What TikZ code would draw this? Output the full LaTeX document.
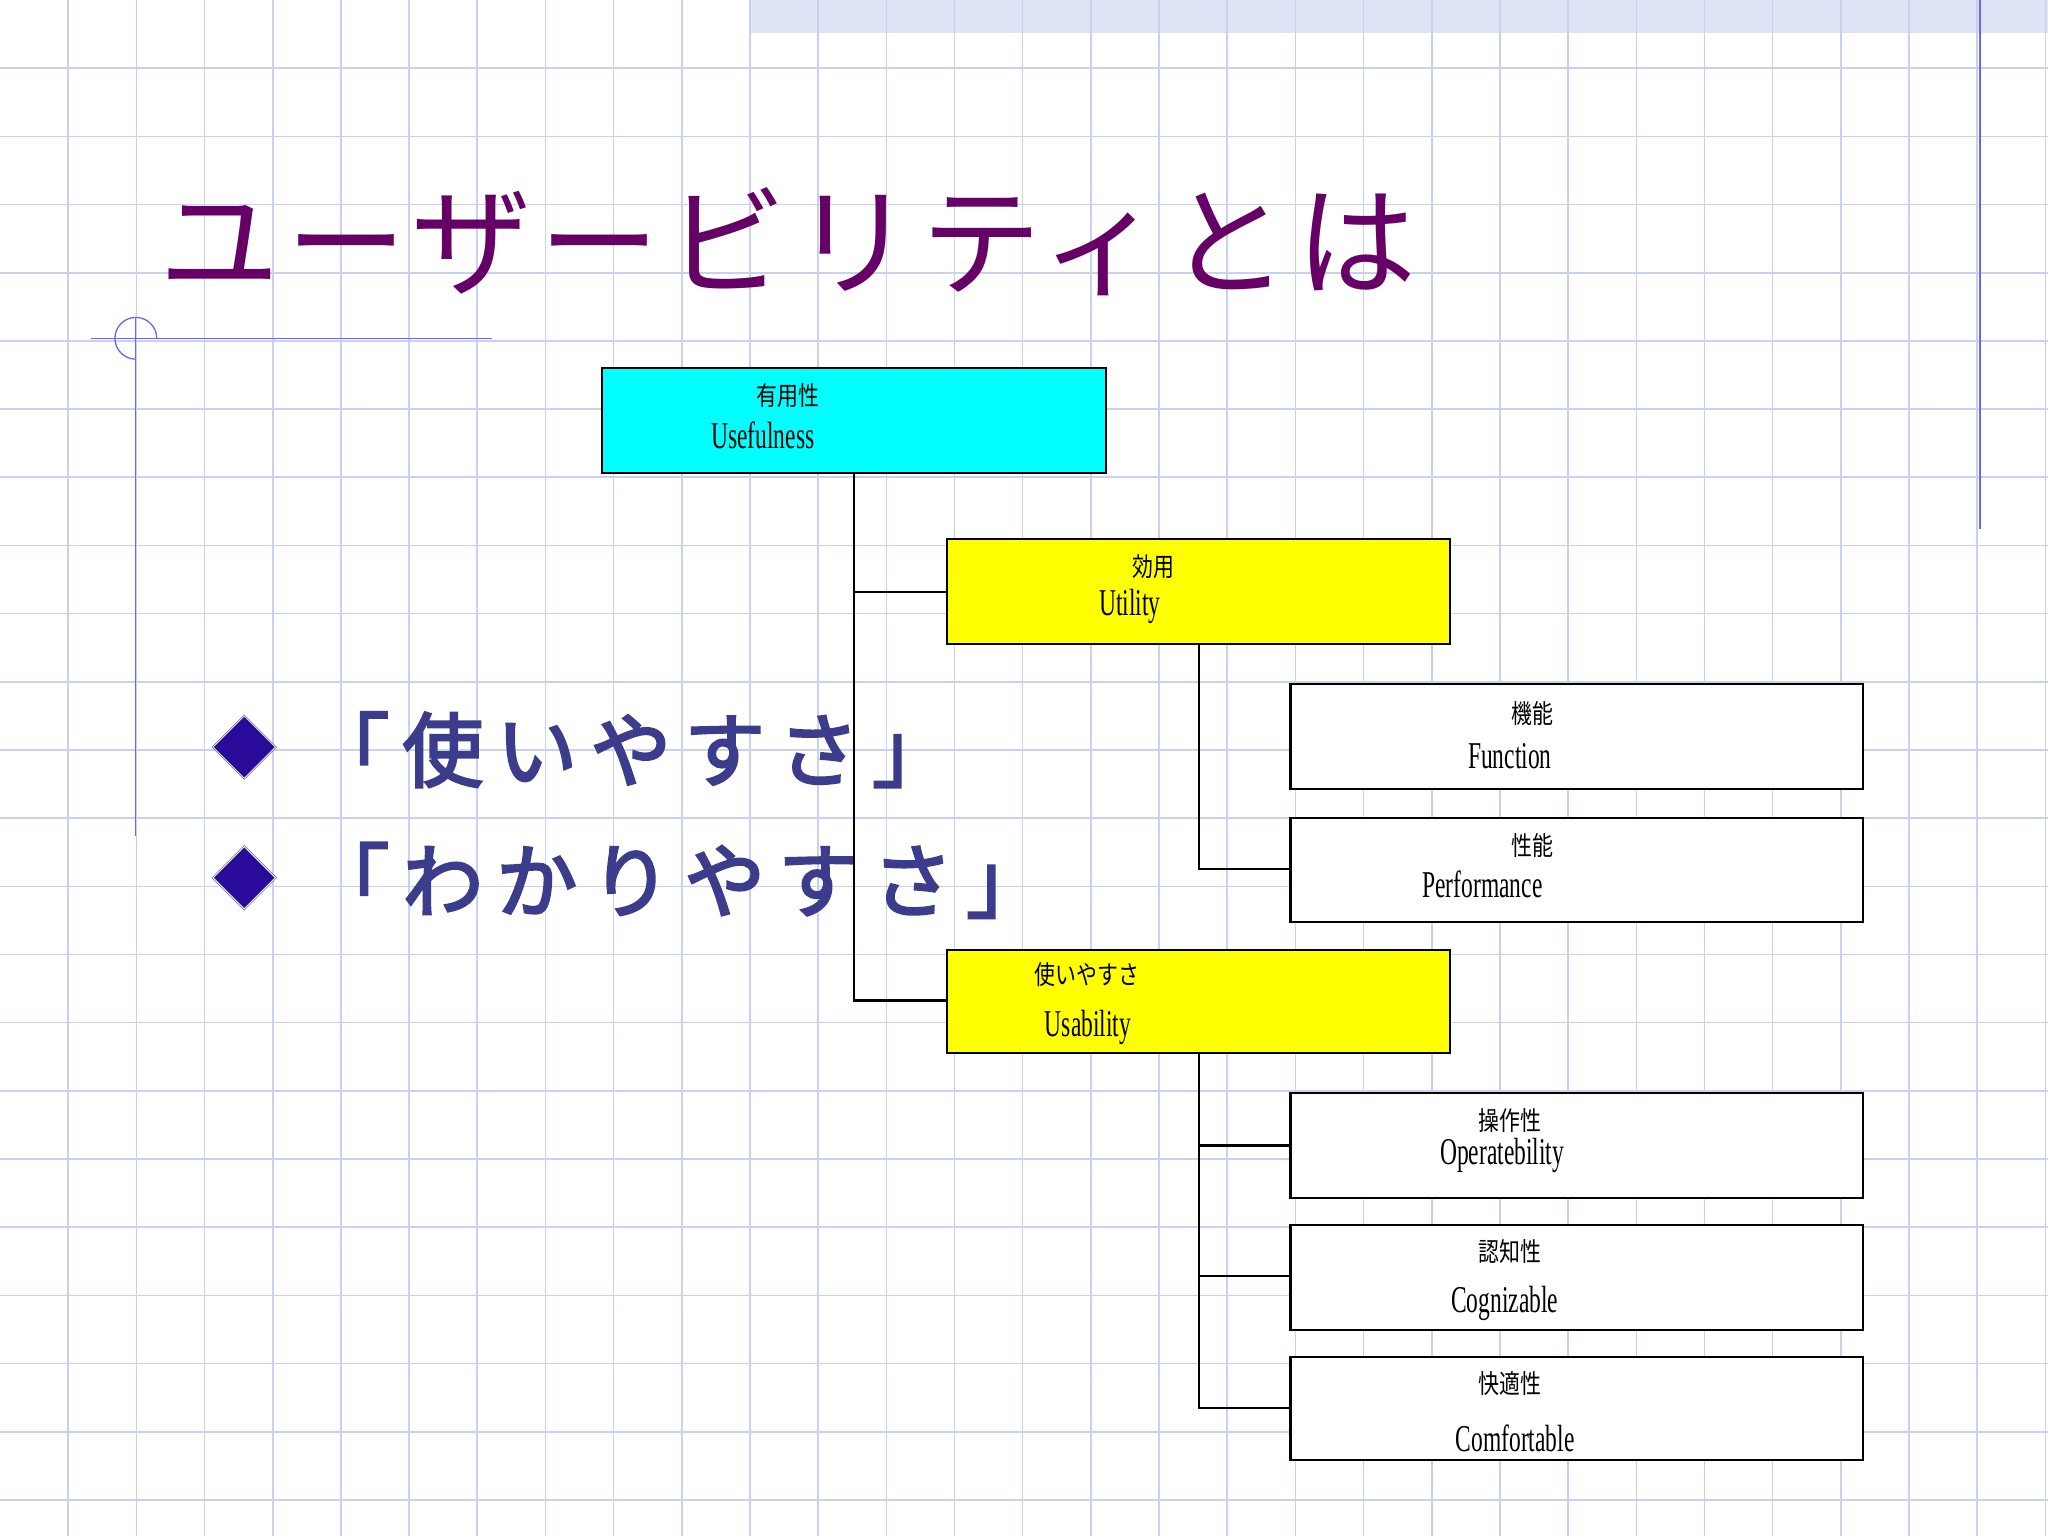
\documentclass[tikz,border=0pt]{standalone}
\usepackage{fontspec}
\usetikzlibrary{shapes.geometric}
\newfontfamily\jp[LetterSpace=6]{Noto Sans CJK JP}
\newfontfamily\jpc[FakeStretch=0.8]{Noto Sans CJK JP}
\newfontfamily\cond[FakeStretch=0.62]{Liberation Serif}
\newfontfamily\jpb[FakeBold=3,LetterSpace=16]{Noto Sans CJK JP}
\definecolor{gridc}{HTML}{C8D2F0}
\definecolor{titlec}{HTML}{660066}
\definecolor{bulc}{HTML}{3C3C8C}
\definecolor{cy}{HTML}{00FFFF}
\definecolor{ye}{HTML}{FFFF00}
\definecolor{dia}{HTML}{2A0A9A}
\begin{document}
\begin{tikzpicture}[x=1pt,y=-1pt,
  box/.style={draw=black,line width=1.6pt,minimum width=0pt},
  jl/.style={font=\jpc\fontsize{20}{22}\selectfont,inner sep=0pt},
  el/.style={font=\cond\fontsize{29}{30}\selectfont,inner sep=0pt},
  conn/.style={line width=1.6pt}]
\useasboundingbox (0,0) rectangle (1568,1176);
\fill[white] (0,0) rectangle (1568,1176);
\fill[gridc!60] (575,0) rectangle (1568,25);
\foreach \i in {1,...,30} \draw[gridc,line width=1.2pt] (52.2*\i,0) -- (52.2*\i,1176);
\foreach \i in {1,...,22} \draw[gridc,line width=1.2pt] (0,52.2*\i) -- (1568,52.2*\i);
\draw[blue!60,line width=1pt] (1516,0) -- (1516,405);
\draw[blue!60,line width=1pt] (70,259) -- (377,259);
\draw[blue!60,line width=1pt] (104,243) -- (104,640);
\draw[blue!60,line width=1pt] (120,259) arc (0:-270:16);
\node[font=\jp\fontsize{92}{92}\selectfont,text=titlec,anchor=west,inner sep=0pt] (title) at (122,185) {ユーザービリティとは};
\node[diamond,fill=dia,draw=bulc,double=white,minimum size=48pt,inner sep=0pt] (d1) at (187,572) {};
\node[diamond,fill=dia,draw=bulc,double=white,minimum size=48pt,inner sep=0pt] (d2) at (187,672) {};
\node[font=\jpb\fontsize{62}{62}\selectfont,text=bulc,anchor=west,inner sep=0pt] (b1) at (236,574) {「使いやすさ」};
\node[font=\jpb\fontsize{62}{62}\selectfont,text=bulc,anchor=west,inner sep=0pt] (b2) at (236,674) {「わかりやすさ」};
% boxes
\draw[box,fill=cy] (461,282) rectangle (847,362);
\draw[box,fill=ye] (725,413) rectangle (1110,493);
\draw[box,fill=white] (988,524) rectangle (1426,604);
\draw[box,fill=white] (988,626) rectangle (1426,706);
\draw[box,fill=ye] (725,727) rectangle (1110,806);
\draw[box,fill=white] (988,837) rectangle (1426,917);
\draw[box,fill=white] (988,938) rectangle (1426,1018);
\draw[box,fill=white] (988,1039) rectangle (1426,1118);
\coordinate (a0) at (654,362); \coordinate (a1) at (654,453); \coordinate (a2) at (654,766);
\coordinate (u1) at (725,453); \coordinate (u2) at (725,766);
\coordinate (c0) at (918,493); \coordinate (c1) at (918,665); \coordinate (p1) at (988,665);
\coordinate (e0) at (918,806); \coordinate (e1) at (918,877); \coordinate (e2) at (918,977); \coordinate (e3) at (918,1078);
\coordinate (f1) at (988,877); \coordinate (f2) at (988,977); \coordinate (f3) at (988,1078);
\draw[conn] (a0) -- (a2) -- (u2); \draw[conn] (a1) -- (u1);
\draw[conn] (c0) -- (c1) -- (p1);
\draw[conn] (e0) -- (e3) -- (f3); \draw[conn] (e1) -- (f1); \draw[conn] (e2) -- (f2);
\node[jl] (t1) at (603,303) {有用性}; \node[el] (t1e) at (584,333) {Usefulness};
\node[jl] (t2) at (883,434) {効用}; \node[el] (t2e) at (865,464) {Utility};
\node[jl] (t3) at (1173,546) {機能}; \node[el] (t3e) at (1156,579) {Function};
\node[jl] (t4) at (1173,647) {性能}; \node[el] (t4e) at (1135,677) {Performance};
\node[jl] (t5) at (832,746) {使いやすさ}; \node[el] (t5e) at (833,787) {Usability};
\node[jl] (t6) at (1156,858) {操作性}; \node[el] (t6e) at (1150,885) {Operatebility};
\node[jl] (t7) at (1156,958) {認知性}; \node[el] (t7e) at (1152,998) {Cognizable};
\node[jl] (t8) at (1156,1059) {快適性}; \node[el] (t8e) at (1160,1101) {Comfortable};
\end{tikzpicture}
\end{document}
